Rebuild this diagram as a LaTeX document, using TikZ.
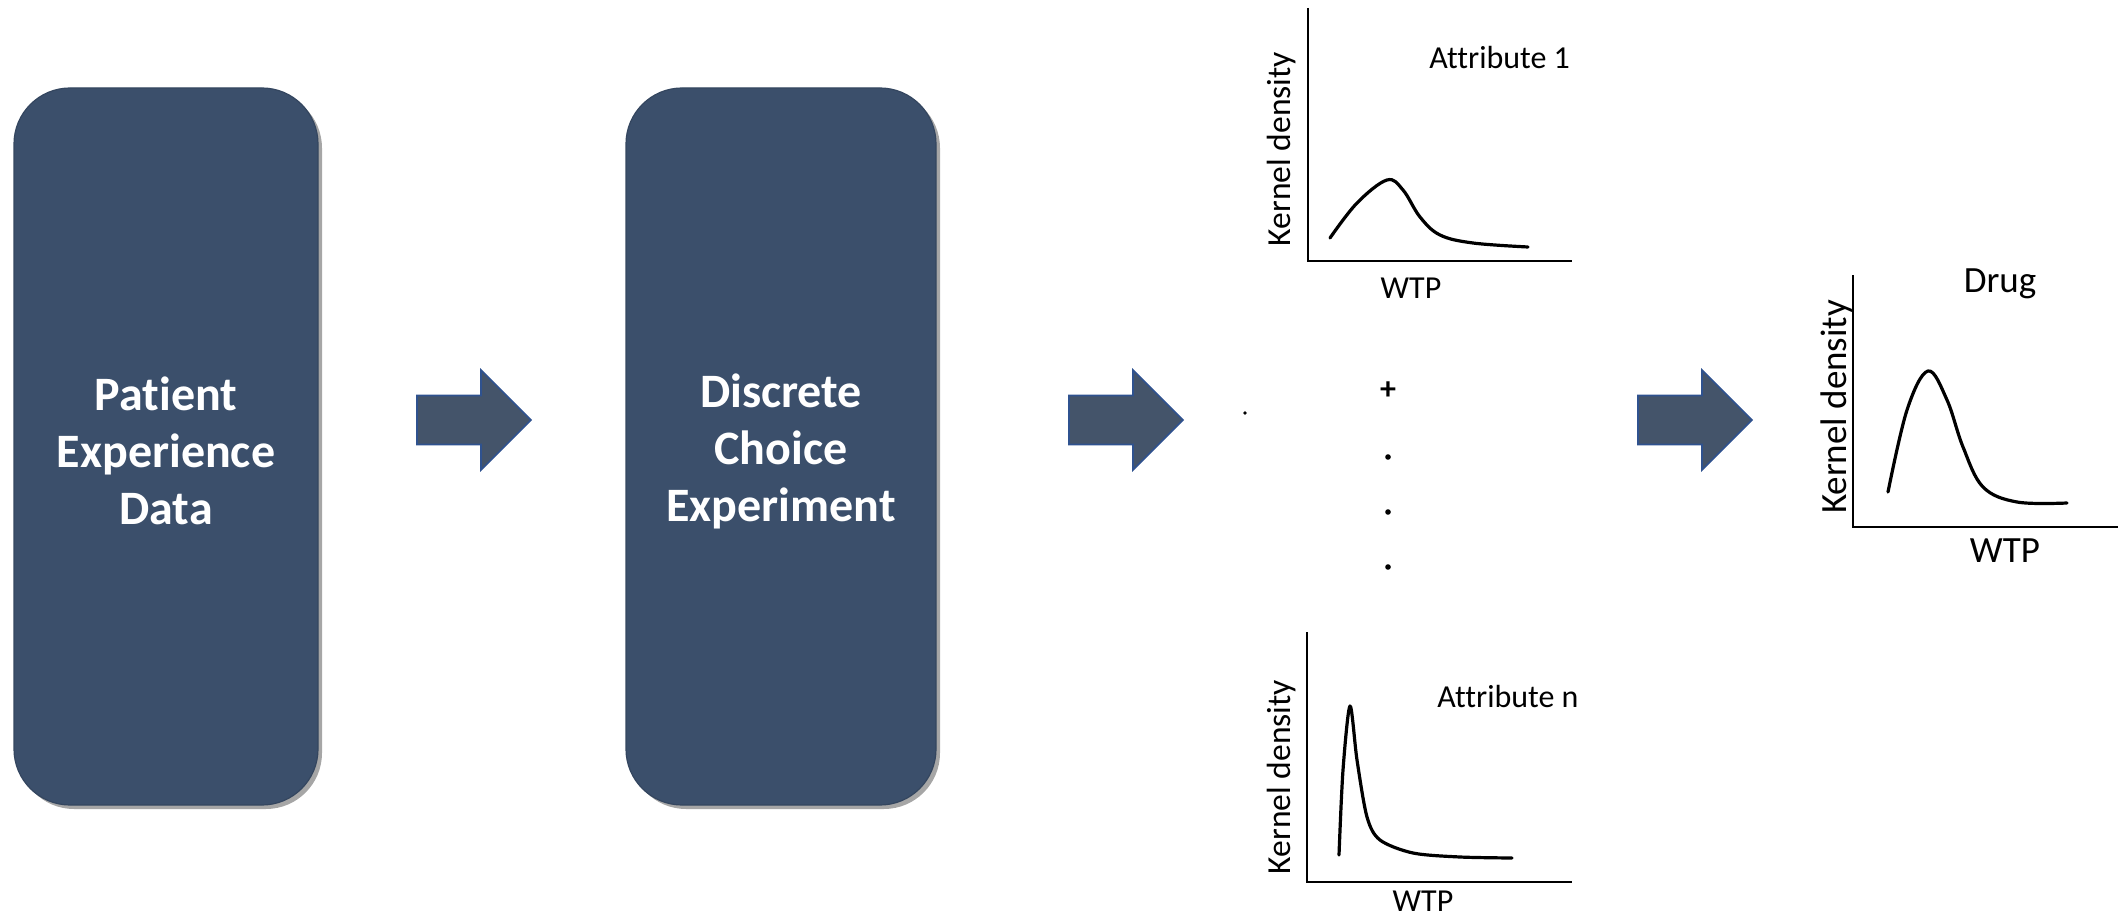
\documentclass[tikz,border=0pt]{standalone}
\usepackage{fontspec}
\setmainfont{Carlito}[Ligatures=NoCommon]
\usetikzlibrary{shadows}
\definecolor{boxfill}{HTML}{3B4F6B}
\definecolor{boxline}{HTML}{34465F}
\definecolor{arrfill}{HTML}{44546A}
\definecolor{arrline}{HTML}{2F528F}
\begin{document}
\begin{tikzpicture}[x=0.5pt,y=-0.5pt,
  mainbox/.style={draw=boxline, line width=0.6pt, fill=boxfill, rounded corners=28pt,
    minimum height=358.5pt, inner sep=0pt,
    drop shadow={shadow xshift=2pt, shadow yshift=-2pt, opacity=0.35, fill=black}},
  boxtext/.style={align=center, text=white, inner sep=0pt,
    font=\fontsize{24}{28.5}\selectfont\bfseries},
  blockarrow/.style={fill=arrfill, draw=arrline, line width=0.8pt, line join=miter},
  axisline/.style={line width=0.8pt, black},
  curve/.style={line width=1.6pt, black, line cap=round, line join=round},
  lab/.style={font=\fontsize{16}{19}\selectfont, inner sep=0pt},
  kd/.style={font=\fontsize{16.8}{19}\selectfont, inner sep=0pt, rotate=90},
  labd/.style={font=\fontsize{18.5}{21}\selectfont, inner sep=0pt}]
\useasboundingbox (0,0) rectangle (2121,920);

% main boxes
\node[mainbox, minimum width=152pt] (ped) at (166,446.5) {};
\node[boxtext] (pedtext) at (166,451) {Patient\\Experience\\Data};
\node[mainbox, minimum width=155pt] (dce) at (781,446.5) {};
\node[boxtext] (dcetext) at (781,451) {Discrete\\Choice\\Experiment};

% block arrows
\draw[blockarrow, shift={(417,420)}] (0,-24.5) -- (64,-24.5) -- (64,-50) -- (114,0) -- (64,50) -- (64,24.5) -- (0,24.5) -- cycle;
\draw[blockarrow, shift={(1069,420)}] (0,-24.5) -- (64,-24.5) -- (64,-50) -- (114,0) -- (64,50) -- (64,24.5) -- (0,24.5) -- cycle;
\draw[blockarrow, shift={(1638,420)}] (0,-24.5) -- (64,-24.5) -- (64,-50) -- (114,0) -- (64,50) -- (64,24.5) -- (0,24.5) -- cycle;

% chart 1: Attribute 1
\draw[axisline] (1308,8) -- (1308,261) -- (1572,261);
\draw[curve] plot[smooth, tension=0.6] coordinates {(1330,238) (1357,203) (1387,180) (1403,190) (1420,217) (1440,235) (1473,243) (1528,247)};
\node[lab, anchor=west] (t1) at (1429,58) {Attribute 1};
\node[lab] (w1) at (1411,288) {WTP};
\node[kd] (k1) at (1282,149) {Kernel density};

% separators
\node[font=\fontsize{16}{19}\selectfont\bfseries, inner sep=0pt] (plus) at (1388,391) {+};
\fill (1388,457) circle (1.4pt);
\fill (1388,512) circle (1.4pt);
\fill (1388,567) circle (1.4pt);
\fill (1245,413) circle (0.9pt);

% chart 2: Attribute n
\draw[axisline] (1307,632) -- (1307,882) -- (1572,882);
\draw[curve] plot[smooth, tension=0.5] coordinates {(1339,855) (1343,770) (1350,706) (1357,760) (1367,817) (1380,840) (1413,853) (1460,857) (1512,858)};
\node[lab, anchor=west] (t2) at (1437,697) {Attribute n};
\node[lab] (w2) at (1423,901) {WTP};
\node[kd] (k2) at (1282,777) {Kernel density};

% chart 3: Drug
\draw[axisline] (1853,275) -- (1853,527) -- (2118,527);
\draw[curve] plot[smooth, tension=0.6] coordinates {(1888,492) (1907,410) (1928,371) (1947,400) (1963,447) (1983,487) (2017,502) (2067,503)};
\node[labd] (t3) at (2000,284) {Drug};
\node[labd] (w3) at (2005,551) {WTP};
\node[labd, rotate=90] (k3) at (1837,407) {Kernel density};
\end{tikzpicture}
\end{document}
